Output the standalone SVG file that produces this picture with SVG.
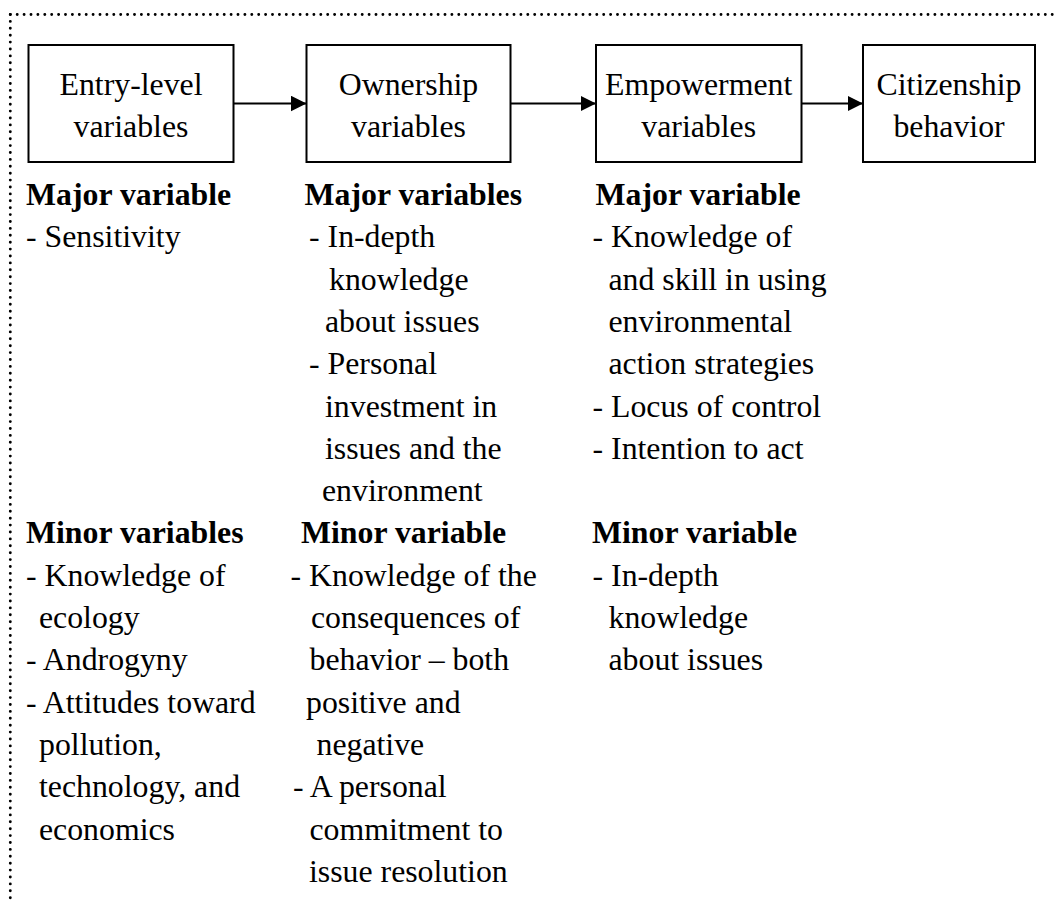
<svg xmlns="http://www.w3.org/2000/svg" width="1057" height="900" viewBox="0 0 1057 900">
  <style>
    text { font-family: "Liberation Serif", "Times New Roman", serif; font-size: 31.8px; fill: #000; }
    .box { fill: #fff; stroke: #000; stroke-width: 2; }
    .title { text-anchor: middle; }
    .head { font-weight: bold; }
    .link { stroke: #000; stroke-width: 2; fill: none; }
    .frame { stroke: #000; stroke-width: 2.9; stroke-linecap: round; stroke-dasharray: 0 6.9; fill: none; }
  </style>
  <defs>
    <marker id="arrow" markerUnits="userSpaceOnUse" markerWidth="16" markerHeight="16" refX="15.5" refY="7.75" orient="auto">
      <path d="M0,0 L15.5,7.75 L0,15.5 z" fill="#000"/>
    </marker>
  </defs>

  <rect width="1057" height="900" fill="#fff"/>

  <!-- dotted frame (open on the right and bottom) -->
  <g id="frame">
    <path class="frame" d="M10.3,14.5 H1057"/>
    <path class="frame" d="M10.3,14.5 V900"/>
  </g>

  <!-- stage nodes -->
  <g id="node-entry">
    <rect class="box" x="28.5" y="45" width="205" height="117"/>
    <text class="title" x="131" y="94.7">Entry-level</text>
    <text class="title" x="131" y="136.7">variables</text>
  </g>
  <g id="node-ownership">
    <rect class="box" x="306.5" y="45" width="204" height="117"/>
    <text class="title" x="408.5" y="94.7">Ownership</text>
    <text class="title" x="408.5" y="136.7">variables</text>
  </g>
  <g id="node-empowerment">
    <rect class="box" x="596" y="45" width="205.5" height="117"/>
    <text class="title" x="698.7" y="94.7">Empowerment</text>
    <text class="title" x="698.7" y="136.7">variables</text>
  </g>
  <g id="node-citizenship">
    <rect class="box" x="863" y="45" width="172" height="117"/>
    <text class="title" x="949" y="94.7">Citizenship</text>
    <text class="title" x="949" y="136.7">behavior</text>
  </g>

  <!-- connectors -->
  <g id="connectors">
    <line class="link" x1="233.5" y1="103.5" x2="306.5" y2="103.5" marker-end="url(#arrow)"/>
    <line class="link" x1="510.5" y1="103.5" x2="596" y2="103.5" marker-end="url(#arrow)"/>
    <line class="link" x1="801.5" y1="103.5" x2="863" y2="103.5" marker-end="url(#arrow)"/>
  </g>

  <!-- entry-level column -->
  <g id="list-entry">
    <text class="head" x="26" y="205">Major variable</text>
    <text x="26" y="247.3">- Sensitivity</text>
    <text class="head" x="26" y="543.4">Minor variables</text>
    <text x="26" y="585.7">- Knowledge of</text>
    <text x="39" y="628">ecology</text>
    <text x="26" y="670.3">- Androgyny</text>
    <text x="26" y="712.6">- Attitudes toward</text>
    <text x="39" y="754.9">pollution,</text>
    <text x="39" y="797.2">technology, and</text>
    <text x="39" y="839.5">economics</text>
  </g>

  <!-- ownership column -->
  <g id="list-ownership">
    <text class="head" x="304.5" y="205">Major variables</text>
    <text x="309" y="247.3">- In-depth</text>
    <text x="329" y="289.6">knowledge</text>
    <text x="325" y="331.9">about issues</text>
    <text x="309" y="374.2">- Personal</text>
    <text x="325" y="416.5">investment in</text>
    <text x="325" y="458.8">issues and the</text>
    <text x="322" y="501.1">environment</text>
    <text class="head" x="301" y="543.4">Minor variable</text>
    <text x="290.5" y="585.7">- Knowledge of the</text>
    <text x="311" y="628">consequences of</text>
    <text x="309.5" y="670.3">behavior – both</text>
    <text x="306" y="712.6">positive and</text>
    <text x="316.5" y="754.9">negative</text>
    <text x="293" y="797.2">- A personal</text>
    <text x="309.5" y="839.5">commitment to</text>
    <text x="309" y="881.8">issue resolution</text>
  </g>

  <!-- empowerment column -->
  <g id="list-empowerment">
    <text class="head" x="595.5" y="205">Major variable</text>
    <text x="592.5" y="247.3">- Knowledge of</text>
    <text x="608.5" y="289.6">and skill in using</text>
    <text x="608.5" y="331.9">environmental</text>
    <text x="608.5" y="374.2">action strategies</text>
    <text x="592.5" y="416.5">- Locus of control</text>
    <text x="592.5" y="458.8">- Intention to act</text>
    <text class="head" x="592" y="543.4">Minor variable</text>
    <text x="592.5" y="585.7">- In-depth</text>
    <text x="608.5" y="628">knowledge</text>
    <text x="608.5" y="670.3">about issues</text>
  </g>
</svg>
